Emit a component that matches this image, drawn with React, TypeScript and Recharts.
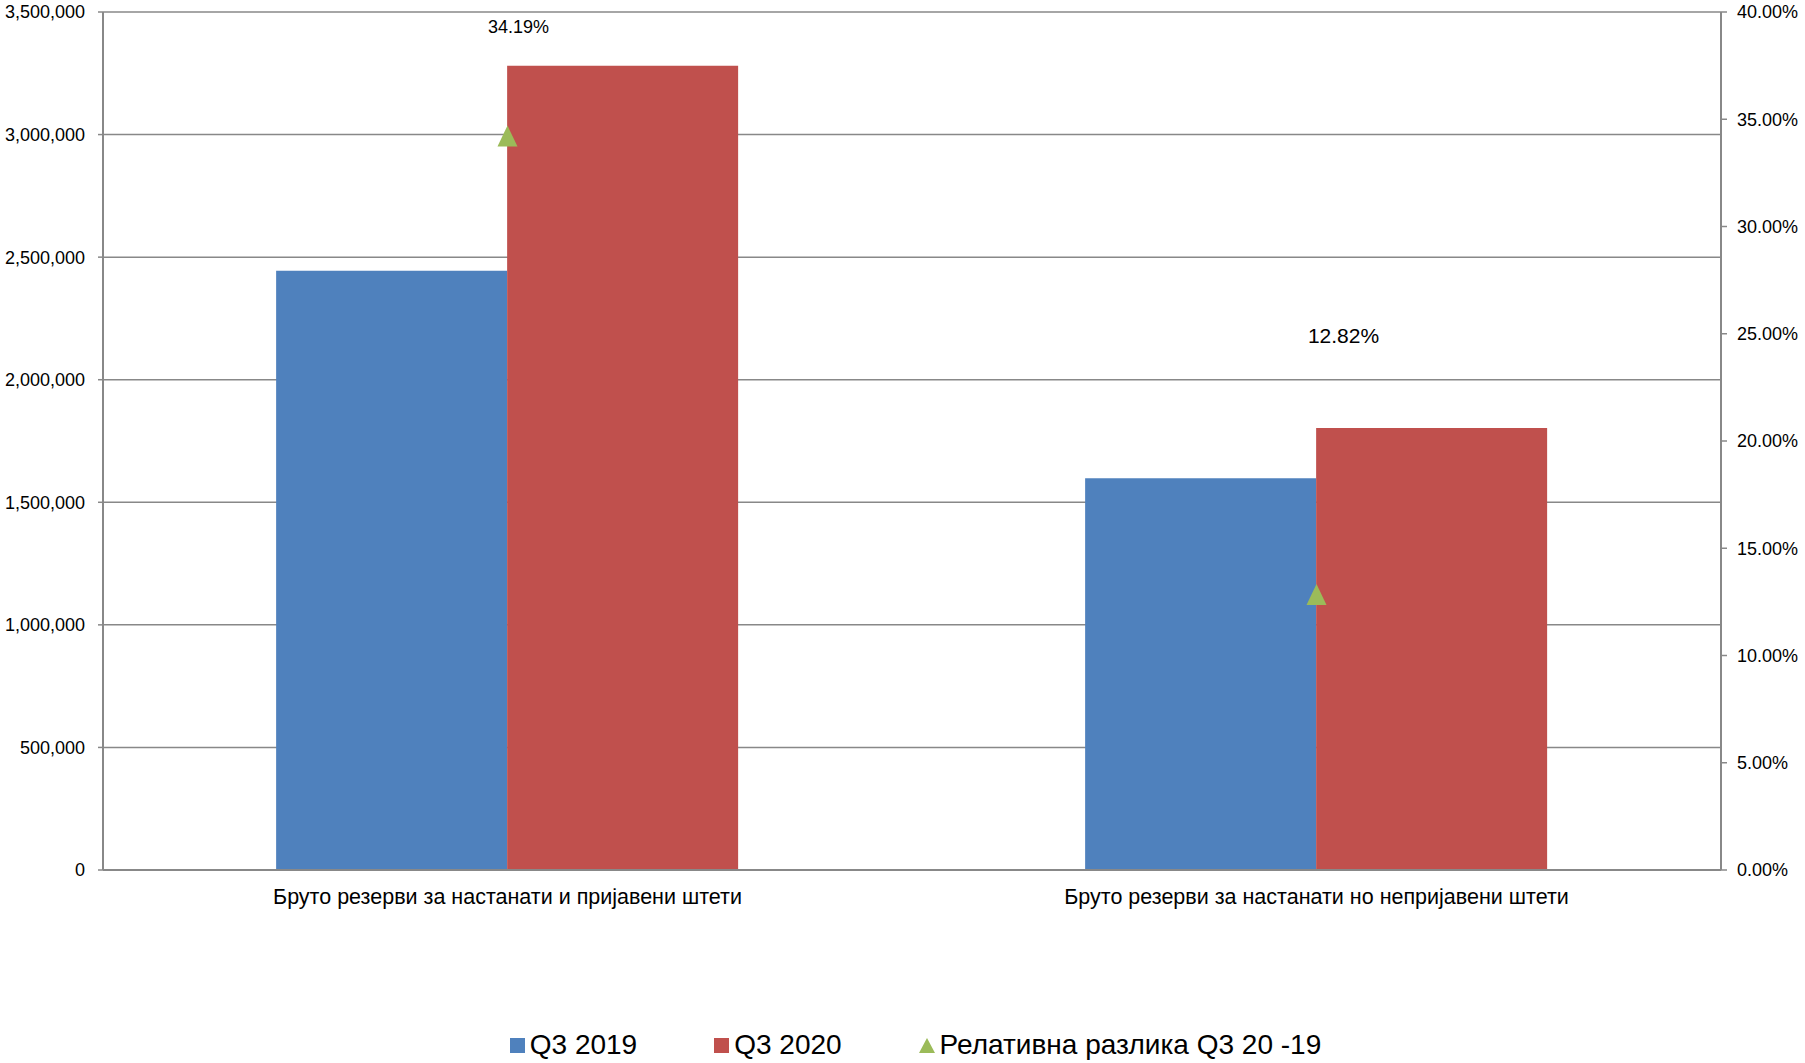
import React from 'react';
import { ComposedChart, Bar, Line, XAxis, YAxis, CartesianGrid, Legend, LabelList } from 'recharts';

const categories = [
  'Бруто резерви за настанати и пријавени штети',
  'Бруто резерви за настанати но непријавени штети',
];
const seriesQ3_2019 = [2445000, 1598000];
const seriesQ3_2020 = [3281000, 1803000];
const relativeDiff = [0.3419, 0.1282];
const leftTicks = [0, 500000, 1000000, 1500000, 2000000, 2500000, 3000000, 3500000];
const rightTicks = [0, 0.05, 0.1, 0.15, 0.2, 0.25, 0.3, 0.35, 0.4];
const seriesNames = ['Q3 2019', 'Q3 2020', 'Релативна разлика Q3 20 -19'];

// label styling (Excel placed the data labels freely)
const labelStyles = [
  { dx: 11, dy: -110, fontSize: 18 },
  { dx: 27, dy: -260, fontSize: 21 },
];

const BLUE = '#4F81BD';
const RED = '#C0504D';
const GREEN = '#9BBB59';
const GRID = '#888888';
const FONT = '"Liberation Sans", Arial, sans-serif';

const data = categories.map((c, i) => ({
  category: c,
  q2019: seriesQ3_2019[i],
  q2020: seriesQ3_2020[i],
  rel: relativeDiff[i],
}));

const fmtNum = (v: number) => v.toLocaleString('en-US');
const fmtPct = (v: number) => (v * 100).toFixed(2) + '%';

const Triangle = (props: any) => {
  const { cx, cy } = props;
  if (cx == null || cy == null) return null;
  return <path d={`M${cx},${cy - 11} L${cx + 10},${cy + 10} L${cx - 10},${cy + 10} Z`} fill={GREEN} />;
};

const RelLabel = (props: any) => {
  const { x, y, value, index } = props;
  const s = labelStyles[index] || { dx: 0, dy: -20, fontSize: 18 };
  return (
    <text
      x={x + s.dx}
      y={y + s.dy}
      textAnchor="middle"
      dominantBaseline="central"
      fontSize={s.fontSize}
      fontFamily={FONT}
      fill="#000"
    >
      {fmtPct(value)}
    </text>
  );
};

const LegendContent = () => {
  const items = [
    { name: seriesNames[0], color: BLUE, shape: 'square' },
    { name: seriesNames[1], color: RED, shape: 'square' },
    { name: seriesNames[2], color: GREEN, shape: 'triangle' },
  ];
  return (
    <div
      style={{
        display: 'flex',
        justifyContent: 'center',
        alignItems: 'center',
        gap: 77,
        paddingLeft: 26,
        fontFamily: FONT,
        fontSize: 28,
        lineHeight: '36px',
        color: '#000',
        height: 36,
      }}
    >
      {items.map((it) => (
        <div key={it.name} style={{ display: 'flex', alignItems: 'center' }}>
          <svg width={it.shape === 'square' ? 15 : 16} height={15} style={{ marginRight: 5 }}>
            {it.shape === 'square' ? (
              <rect x={0} y={0} width={15} height={15} fill={it.color} />
            ) : (
              <path d="M8,0 L16,15 L0,15 Z" fill={it.color} />
            )}
          </svg>
          <span style={{ whiteSpace: 'nowrap' }}>{it.name}</span>
        </div>
      ))}
    </div>
  );
};

export default function App() {
  return (
    <div style={{ position: 'absolute', left: 0, top: 0, width: 1805, height: 1063, background: '#fff' }}>
      <ComposedChart
        width={1805}
        height={1063}
        data={data}
        margin={{ top: 12, right: 0, left: 0, bottom: 0 }}
        barCategoryGap="21.4%"
        barGap={0}
      >
        <CartesianGrid yAxisId="left" horizontal vertical={false} stroke={GRID} strokeWidth={1.5} />
        <XAxis
          dataKey="category"
          height={157}
          tickSize={0}
          tickMargin={19}
          axisLine={{ stroke: GRID, strokeWidth: 2 }}
          tick={{ fontSize: 21.5, fontFamily: FONT, fill: '#000' }}
          interval={0}
        />
        <YAxis
          yAxisId="left"
          orientation="left"
          width={103}
          domain={[0, 3500000]}
          ticks={leftTicks}
          tickFormatter={fmtNum}
          tickSize={5}
          tickMargin={13}
          axisLine={{ stroke: GRID, strokeWidth: 2 }}
          tickLine={{ stroke: GRID, strokeWidth: 1.5 }}
          tick={{ fontSize: 18, fontFamily: FONT, fill: '#000' }}
          allowDataOverflow
        />
        <YAxis
          yAxisId="right"
          orientation="right"
          width={84}
          domain={[0, 0.4]}
          ticks={rightTicks}
          tickFormatter={fmtPct}
          tickSize={6}
          tickMargin={10}
          axisLine={{ stroke: GRID, strokeWidth: 2 }}
          tickLine={{ stroke: GRID, strokeWidth: 1.5 }}
          tick={{ fontSize: 18, fontFamily: FONT, fill: '#000', textAnchor: 'start' }}
          allowDataOverflow
        />
        <Bar yAxisId="left" dataKey="q2019" name={seriesNames[0]} fill={BLUE} isAnimationActive={false} />
        <Bar yAxisId="left" dataKey="q2020" name={seriesNames[1]} fill={RED} isAnimationActive={false} />
        <Line
          yAxisId="right"
          dataKey="rel"
          name={seriesNames[2]}
          stroke="none"
          dot={<Triangle />}
          activeDot={false}
          isAnimationActive={false}
        >
          <LabelList dataKey="rel" content={<RelLabel />} />
        </Line>
        <Legend verticalAlign="bottom" height={36} content={<LegendContent />} />
      </ComposedChart>
    </div>
  );
}
